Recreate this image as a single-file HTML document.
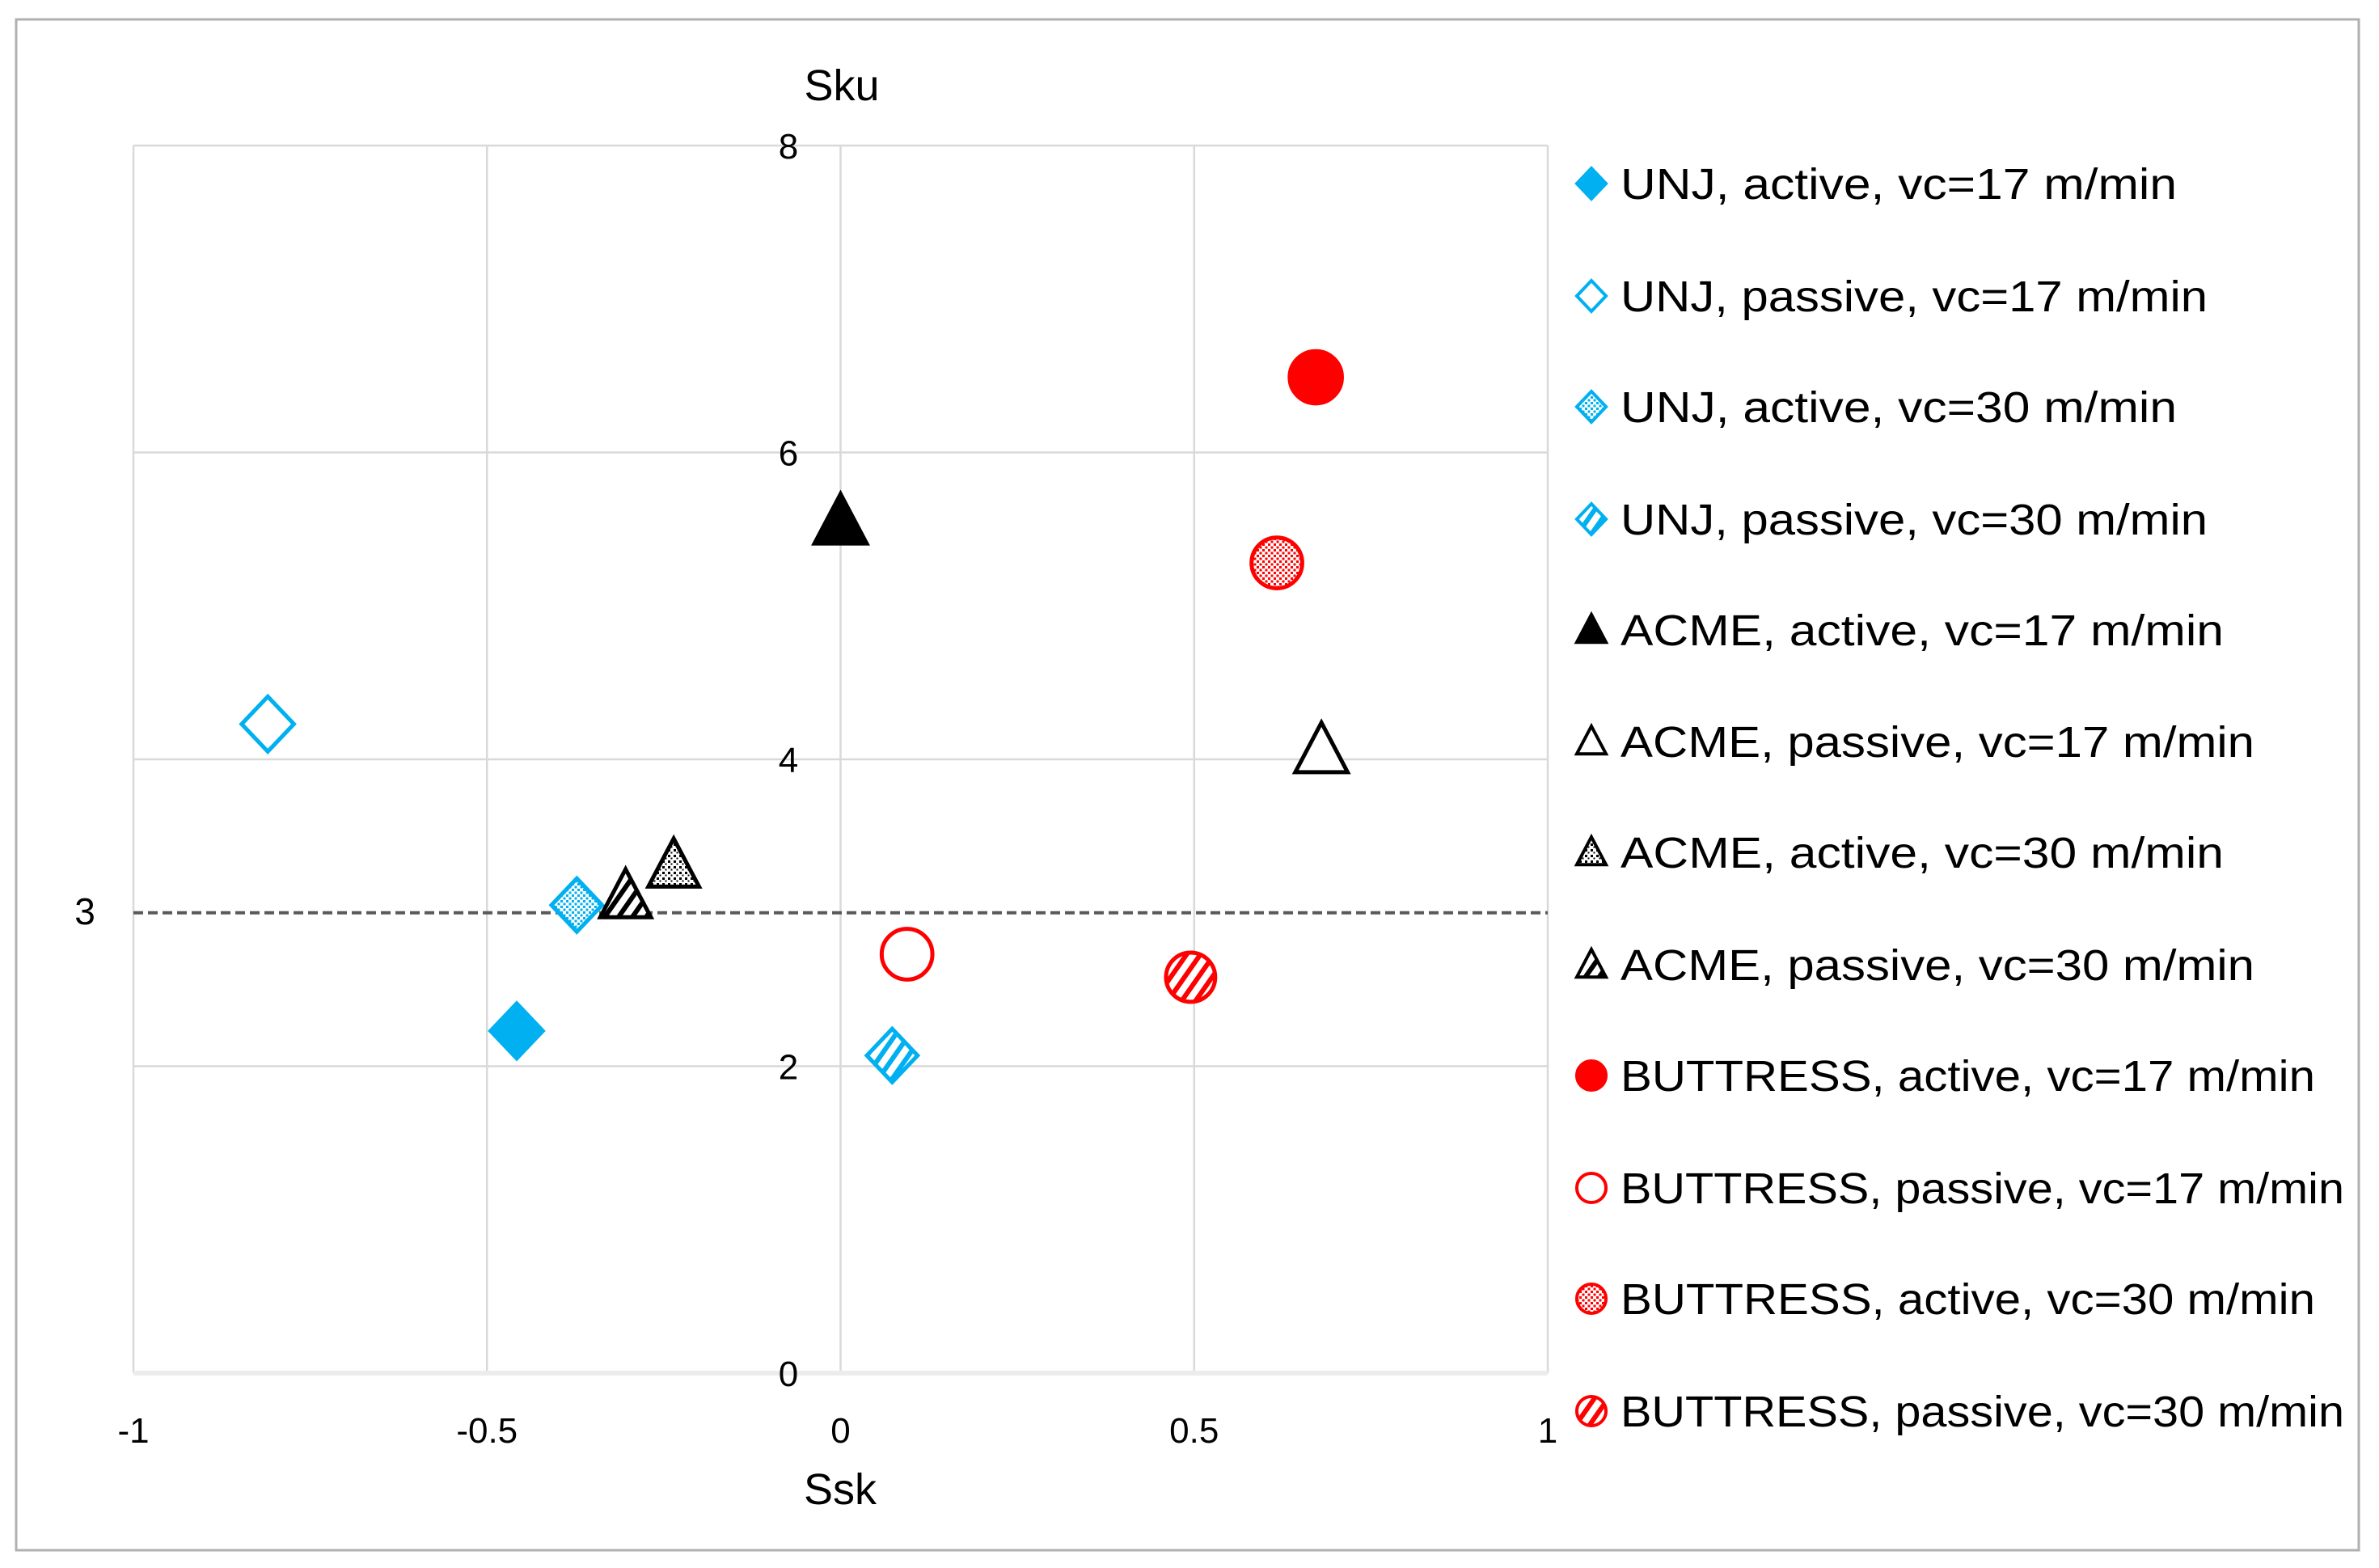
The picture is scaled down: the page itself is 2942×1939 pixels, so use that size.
<!DOCTYPE html>
<html><head><meta charset="utf-8"><style>
html,body{margin:0;padding:0;background:#fff}
svg{display:block}
text{font-family:"Liberation Sans",sans-serif;fill:#000}
</style></head><body>
<svg id="chart" width="2942" height="1939" viewBox="0 0 2942 1939">
<defs>
<pattern id="dotBlue" width="7" height="7" patternUnits="userSpaceOnUse"><rect width="7" height="7" fill="#fff"/><rect width="3" height="3" fill="#00B0F0"/><rect x="3.5" y="3.5" width="3" height="3" fill="#00B0F0"/></pattern>
<pattern id="dotRed" width="7" height="7" patternUnits="userSpaceOnUse"><rect width="7" height="7" fill="#fff"/><rect width="3" height="3" fill="#FF0000"/><rect x="3.5" y="3.5" width="3" height="3" fill="#FF0000"/></pattern>
<pattern id="dotBlack" width="7" height="7" patternUnits="userSpaceOnUse"><rect width="7" height="7" fill="#fff"/><rect width="3" height="3" fill="#000"/><rect x="3.5" y="3.5" width="2" height="2" fill="#000"/></pattern>
<pattern id="strBlue" width="14" height="14" patternUnits="userSpaceOnUse" patternTransform="rotate(35)"><rect width="14" height="14" fill="#fff"/><rect width="6" height="14" fill="#00B0F0"/></pattern>
<pattern id="strRed" width="14" height="14" patternUnits="userSpaceOnUse" patternTransform="rotate(35)"><rect width="14" height="14" fill="#fff"/><rect width="6" height="14" fill="#FF0000"/></pattern>
<pattern id="strBlack" width="14" height="14" patternUnits="userSpaceOnUse" patternTransform="rotate(35)"><rect width="14" height="14" fill="#fff"/><rect width="6" height="14" fill="#000"/></pattern>
</defs>
<rect x="20" y="24" width="2897" height="1893" fill="#fff" stroke="#b0b0b0" stroke-width="3"/>
<g id="grid"></g>
<g id="marks"></g>
<g id="legend"></g>
</svg>
<script>
const xTicks = [-1, -0.5, 0, 0.5, 1];
const xTickLabels = ["-1", "-0.5", "0", "0.5", "1"];
const yTicks = [0, 2, 4, 6, 8];
const yTickLabels = ["0", "2", "4", "6", "8"];
const refLine = 3;
const seriesNames = ["UNJ, active, vc=17 m/min","UNJ, passive, vc=17 m/min","UNJ, active, vc=30 m/min","UNJ, passive, vc=30 m/min","ACME, active, vc=17 m/min","ACME, passive, vc=17 m/min","ACME, active, vc=30 m/min","ACME, passive, vc=30 m/min","BUTTRESS, active, vc=17 m/min","BUTTRESS, passive, vc=17 m/min","BUTTRESS, active, vc=30 m/min","BUTTRESS, passive, vc=30 m/min"];
const sskValues = [-0.458, -0.81, -0.373, 0.073, 0.0, 0.68, -0.236, -0.304, 0.672, 0.094, 0.617, 0.495];
const skuValues = [2.23, 4.23, 3.05, 2.07, 5.55, 4.06, 3.31, 3.11, 6.49, 2.73, 5.28, 2.58];

const styles = [
 {shape:"diamond",fill:"#00B0F0",stroke:"#00B0F0",size:68},
 {shape:"diamond",fill:"#fff",stroke:"#00B0F0",size:68},
 {shape:"diamond",fill:"url(#dotBlue)",stroke:"#00B0F0",size:66},
 {shape:"diamond",fill:"url(#strBlue)",stroke:"#00B0F0",size:66},
 {shape:"triangle",fill:"#000",stroke:"#000",size:68},
 {shape:"triangle",fill:"#fff",stroke:"#000",size:68},
 {shape:"triangle",fill:"url(#dotBlack)",stroke:"#000",size:66},
 {shape:"triangle",fill:"url(#strBlack)",stroke:"#000",size:66},
 {shape:"circle",fill:"#FF0000",stroke:"#FF0000",size:68},
 {shape:"circle",fill:"#fff",stroke:"#FF0000",size:66},
 {shape:"circle",fill:"url(#dotRed)",stroke:"#FF0000",size:66},
 {shape:"circle",fill:"url(#strRed)",stroke:"#FF0000",size:64}
];
const legendWidths=[688,726,688,726,746,784,746,784,859,895,859,895];

const NS="http://www.w3.org/2000/svg";
const L=165,R=1914,T=180,B=1698;
const xScale=v=>L+(v+1)/2*(R-L);
const yScale=v=>B-v/8*(B-T);
function mk(tag,attrs,parent){const e=document.createElementNS(NS,tag);for(const k in attrs)e.setAttribute(k,attrs[k]);parent.appendChild(e);return e;}
const grid=document.getElementById("grid"),marks=document.getElementById("marks"),legend=document.getElementById("legend");

xTicks.forEach((t,i)=>{
 const gl=mk("line",{x1:xScale(t),x2:xScale(t),y1:T,y2:B,stroke:"#d9d9d9","stroke-width":2.5},grid);
 
 
 const tl=mk("text",{x:xScale(t),y:1784,"font-size":44,"text-anchor":"middle"},grid);
 tl.textContent=xTickLabels[i];
 
 
});
yTicks.forEach((t,i)=>{
 const gl=mk("line",{x1:L,x2:R,y1:yScale(t),y2:yScale(t),stroke:t===0?"#ececec":"#d9d9d9","stroke-width":t===0?6:2.5},grid);
 
 
 const tl=mk("text",{x:975,y:yScale(t)+16,"font-size":44,"text-anchor":"middle"},grid);
 tl.textContent=yTickLabels[i];
 
 
});
const rl=mk("line",{x1:L,x2:R,y1:yScale(refLine),y2:yScale(refLine),stroke:"#595959","stroke-width":4,"stroke-dasharray":"12 6"},grid);


const rlt=mk("text",{x:105,y:yScale(refLine)+14,"font-size":46,"text-anchor":"middle"},grid);
rlt.textContent="3";


const xt=mk("text",{x:1039,y:1860,"font-size":54,"text-anchor":"middle"},grid);
xt.textContent="Ssk";


const yt=mk("text",{x:1041,y:124,"font-size":54,"text-anchor":"middle"},grid);
yt.textContent="Sku";



function drawMarker(st,cx,cy,s,parent,sw){
 const h=s/2;
 if(st.shape==="diamond")return mk("polygon",{points:`${cx},${cy-h} ${cx+h*0.95},${cy} ${cx},${cy+h} ${cx-h*0.95},${cy}`,fill:st.fill,stroke:st.stroke,"stroke-width":sw},parent);
 if(st.shape==="triangle")return mk("polygon",{points:`${cx},${cy-h} ${cx+h*0.95},${cy+h*0.8} ${cx-h*0.95},${cy+h*0.8}`,fill:st.fill,stroke:st.stroke,"stroke-width":sw},parent);
 return mk("circle",{cx:cx,cy:cy,r:h*0.95,fill:st.fill,stroke:st.stroke,"stroke-width":sw},parent);
}
sskValues.forEach((v,i)=>{
 const m=drawMarker(styles[i],xScale(v),yScale(skuValues[i]),styles[i].size,marks,5);
 
 
});
const legY=[227,366,503,642,779,917,1054,1193,1330,1469,1606,1745];
seriesNames.forEach((n,i)=>{
 const m=drawMarker(styles[i],1968,legY[i],38,legend,4);
 
 
 const t=mk("text",{x:2004,y:legY[i]+19,"font-size":54},legend);
 t.textContent=n;
 t.setAttribute('textLength',legendWidths[i]);
 t.setAttribute('lengthAdjust','spacingAndGlyphs');
 
 
});
</script>
</body></html>
